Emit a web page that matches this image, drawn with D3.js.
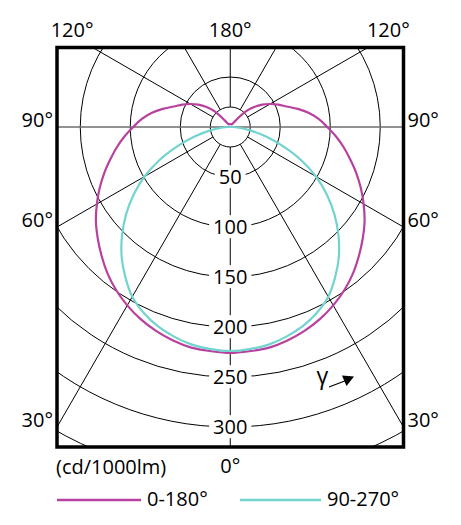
<!DOCTYPE html>
<html><head><meta charset="utf-8">
<script src="https://cdn.jsdelivr.net/npm/d3@7"></script>
<style>
html,body{margin:0;padding:0;background:#fff;}
svg{display:block;font-family:"Open Sans",sans-serif;}
</style></head>
<body>
<svg id="chart" width="461" height="525"></svg>
<script>
// ---- data ----
const gammaDeg = [0,5,10,15,20,25,30,35,40,45,50,55,60,65,70,75,80,85,90,95,100,105,110,115,120,125,130,135,140,145,150,155,160,165,170,175,180];
const plane0_180 = [226,225,224,221,217,212,206,199,191,182,173,164,154,144,134,124,115,106,97,89,80,70,60,53,46,39,31,22,9,4,3,3,3,3,3,3,3];
const plane90_270 = [224,223,221,217,212,205,196,183,169,153,136,118,99,78,56,37,21,9,2,0,0,0,0,0,0,0,0,0,0,0,0,0,0,0,0,0,0];
const ringValues = [20,50,100,150,200,250,300,350];
const ringLabels = [50,100,150,200,250,300];
const spokeAngles = [0,30,60,120,150,180];
const sideAngleLabels = [90,60,30];
const seriesNames = ["0-180°","90-270°"];
const seriesColors = ["#b8419f","#72d3cf"];
const unitLabel = "(cd/1000lm)";

// ---- layout ----
const svg = d3.select("#chart");
const frame = {x:57, y:47.5, w:346.5, h:399.5};
const cx = 230.25, cy = 127;
const r = d3.scaleLinear().domain([0,350]).range([0,350]);
const rad = d => d*Math.PI/180;
const fs = 20;

svg.append("defs").append("clipPath").attr("id","clip")
  .append("rect").attr("x",frame.x).attr("y",frame.y).attr("width",frame.w).attr("height",frame.h);

const grid = svg.append("g").attr("clip-path","url(#clip)");
const g = grid.append("g").attr("transform",`translate(${cx},${cy})`);

// rings
g.selectAll("circle.ring").data(ringValues).join("circle")
  .attr("r",d=>r(d)).attr("fill","none").attr("stroke","#000").attr("stroke-width",1);

// spokes (both sides), from inner ring outward
const spokes = [];
spokeAngles.forEach(a=>{ spokes.push(a); if(a!==0 && a!==180) spokes.push(-a); });
g.selectAll("line.spoke").data(spokes).join("line")
  .attr("x1",d=>r(ringValues[0])*Math.sin(rad(d)))
  .attr("y1",d=>r(ringValues[0])*Math.cos(rad(d)))
  .attr("x2",d=>600*Math.sin(rad(d)))
  .attr("y2",d=>600*Math.cos(rad(d)))
  .attr("stroke","#000").attr("stroke-width",1);

// 90° horizontal line (grey, through centre)
g.append("line").attr("x1",-400).attr("x2",400).attr("y1",0).attr("y2",0)
  .attr("stroke","#6e6e6e").attr("stroke-width",1.6);

// ring value labels with white masks
const lab = g.selectAll("g.rl").data(ringLabels).join("g")
  .attr("transform",d=>`translate(0,${r(d)})`);
lab.append("rect").attr("fill","#fff");
lab.append("text").text(d=>d).attr("text-anchor","middle").attr("dy","0.36em")
  .attr("font-size",fs).attr("fill","#000");
lab.each(function(){
  const t = d3.select(this).select("text").node().getBBox();
  d3.select(this).select("rect").attr("x",t.x-4).attr("y",t.y+2).attr("width",t.width+8).attr("height",t.height-4);
});

// curves
const series = [plane0_180, plane90_270];
const line = d3.lineRadial().angle(d=>d.a).radius(d=>r(d.v)).curve(d3.curveCatmullRomClosed.alpha(0.5));
series.forEach((vals,i)=>{
  const pts = [];
  gammaDeg.forEach((gd,k)=>pts.push({a:Math.PI-rad(gd), v:vals[k]}));
  for(let k=gammaDeg.length-2;k>=1;k--) pts.push({a:Math.PI+rad(gammaDeg[k]), v:vals[k]});
  g.append("path").attr("d",line(pts)).attr("fill","none")
    .attr("stroke",seriesColors[i]).attr("stroke-width",2.2).attr("stroke-linejoin","round");
});

// frame
svg.append("rect").attr("x",frame.x).attr("y",frame.y).attr("width",frame.w).attr("height",frame.h)
  .attr("fill","none").attr("stroke","#000").attr("stroke-width",3.5);

// angle labels
const topY = 30;
const x120 = cx - (cy-frame.y)*Math.tan(rad(60));
svg.append("text").text("120°").attr("x",x120+1).attr("y",topY).attr("dy","0.36em").attr("text-anchor","end").attr("font-size",fs);
svg.append("text").text("120°").attr("x",2*cx-x120-1).attr("y",topY).attr("dy","0.36em").attr("text-anchor","start").attr("font-size",fs);
svg.append("text").text("180°").attr("x",cx).attr("y",topY).attr("dy","0.36em").attr("text-anchor","middle").attr("font-size",fs);
sideAngleLabels.forEach(a=>{
  const rr = (cx-frame.x)/Math.sin(rad(a));
  const y = cy + rr*Math.cos(rad(a)) - 7;
  svg.append("text").text(a+"°").attr("x",frame.x-4).attr("y",y).attr("dy","0.36em").attr("text-anchor","end").attr("font-size",fs);
  svg.append("text").text(a+"°").attr("x",frame.x+frame.w+4).attr("y",y).attr("dy","0.36em").attr("text-anchor","start").attr("font-size",fs);
});
svg.append("text").text("0°").attr("x",cx).attr("y",466).attr("dy","0.36em").attr("text-anchor","middle").attr("font-size",fs);
svg.append("text").text(unitLabel).attr("x",frame.x-1).attr("y",467).attr("dy","0.36em").attr("text-anchor","start").attr("font-size",fs);

// gamma arrow annotation
svg.append("text").text("γ").attr("x",322.5).attr("y",384).attr("text-anchor","middle").attr("font-size",23);
svg.append("line").attr("x1",329).attr("y1",387).attr("x2",346).attr("y2",380.5).attr("stroke","#000").attr("stroke-width",1.2);
svg.append("path").attr("d","M354,376.5 L342,375.5 L346.5,386 Z").attr("fill","#000");

// legend
const leg = [{x1:57,x2:141,tx:147},{x1:240,x2:321,tx:327}];
leg.forEach((l,i)=>{
  svg.append("line").attr("x1",l.x1).attr("x2",l.x2).attr("y1",500).attr("y2",500)
    .attr("stroke",seriesColors[i]).attr("stroke-width",2.5);
  svg.append("text").text(seriesNames[i]).attr("x",l.tx).attr("y",499).attr("dy","0.36em").attr("font-size",fs);
});
</script>
</body></html>
